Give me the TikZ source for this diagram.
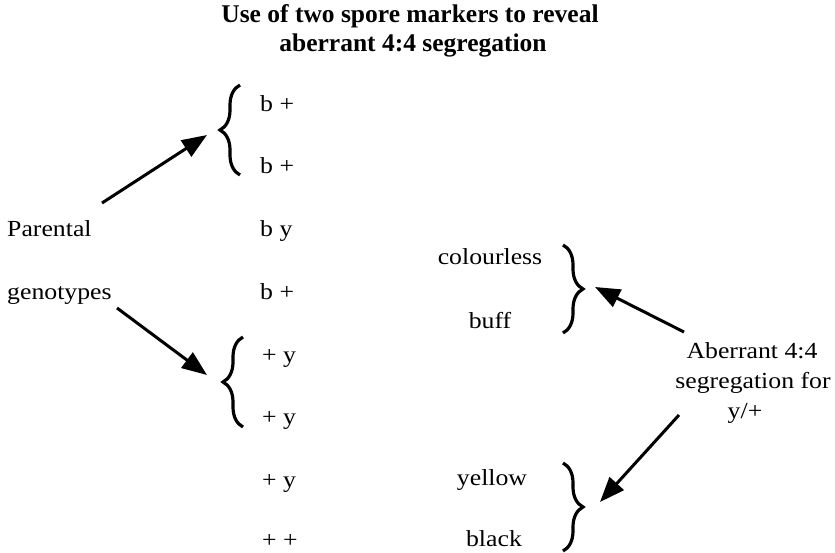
\documentclass[tikz,border=0pt]{standalone}
\usepackage{fontspec}
\setmainfont{Liberation Serif}
\newfontfamily\bodyfont{Liberation Serif}[FakeStretch=1.12]
\usetikzlibrary{arrows.meta,decorations.pathreplacing}
\begin{document}
\begin{tikzpicture}[x=1pt,y=-1pt,
  lbl/.style={font=\bodyfont\fontsize{23}{27}\selectfont, inner sep=0pt, anchor=base},
  geno/.style={lbl, anchor=base west},
  ttl/.style={font=\bfseries\fontsize{25.5}{30}\selectfont, inner sep=0pt, anchor=base},
  arr/.style={line width=3pt, -{Triangle[length=25pt,width=19pt]}},
  brc/.style={decorate, decoration={brace, amplitude=20pt, aspect=0.5}, line width=3.2pt}]
\useasboundingbox (0,0) rectangle (835,553);

% title
\node[ttl] (t1) at (410,23) {Use of two spore markers to reveal};
\node[ttl] (t2) at (413,52) {aberrant 4:4 segregation};

% genotype column
\node[geno] (g1) at (260,112) {b +};
\node[geno] (g2) at (260,174) {b +};
\node[geno] (g3) at (260,237) {b y};
\node[geno] (g4) at (260,300) {b +};
\node[geno] (g5) at (262,362) {+ y};
\node[geno] (g6) at (262,424) {+ y};
\node[geno] (g7) at (262,487) {+ y};
\node[geno] (g8) at (262,547) {+ +};

% left labels
\node[lbl, anchor=base west] (par) at (7,237) {Parental};
\node[lbl, anchor=base west] (gen) at (7,300) {genotypes};

% colour column
\node[lbl] (c1) at (490,265) {colourless};
\node[lbl] (c2) at (490,328) {buff};
\node[lbl] (c3) at (492,485) {yellow};
\node[lbl] (c4) at (494,546) {black};

% right label
\node[lbl] (ab1) at (752,358) {Aberrant 4:4};
\node[lbl] (ab2) at (753,388) {segregation for};
\node[lbl] (ab3) at (745,418) {y/+};

% braces
\coordinate (b1s) at (240,175); \coordinate (b1e) at (240,85);
\coordinate (b2s) at (243,427); \coordinate (b2e) at (243,337);
\coordinate (b3s) at (563,245); \coordinate (b3e) at (563,333);
\coordinate (b4s) at (563,463); \coordinate (b4e) at (563,551);
\draw[brc] (b1s) -- (b1e);
\draw[brc] (b2s) -- (b2e);
\draw[brc] (b3s) -- (b3e);
\draw[brc] (b4s) -- (b4e);

% arrows
\coordinate (a1s) at (102,203); \coordinate (a1e) at (207,135);
\coordinate (a2s) at (117,308); \coordinate (a2e) at (207,375);
\coordinate (a3s) at (684,332); \coordinate (a3e) at (595,287);
\coordinate (a4s) at (679,415); \coordinate (a4e) at (600,502);
\draw[arr] (a1s) -- (a1e);
\draw[arr] (a2s) -- (a2e);
\draw[arr] (a3s) -- (a3e);
\draw[arr] (a4s) -- (a4e);
\end{tikzpicture}
\end{document}
